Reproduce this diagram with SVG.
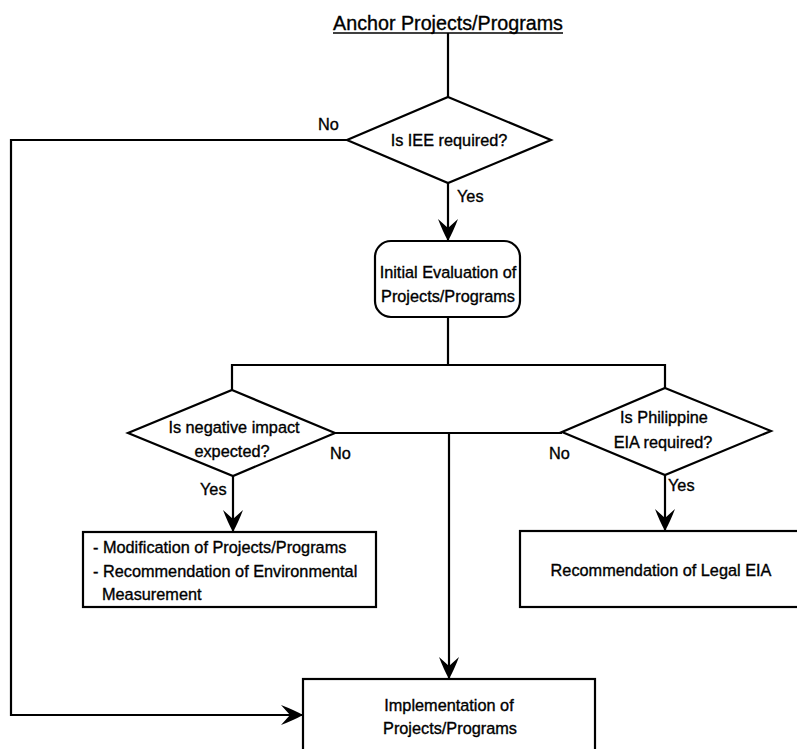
<svg xmlns="http://www.w3.org/2000/svg" width="797" height="749" viewBox="0 0 797 749">
<style>
  .s{fill:none;stroke:#000;stroke-width:2.2;stroke-linejoin:miter}
  .b{fill:#fff;stroke:#000;stroke-width:2.2}
  text{font-family:"Liberation Sans",Arial,sans-serif;font-size:16.3px;fill:#000;stroke:#000;stroke-width:0.35}
  .c{text-anchor:middle}
  .t{font-size:19.7px}
</style>
<defs>
  <marker id="ah" markerUnits="userSpaceOnUse" markerWidth="24" markerHeight="22" refX="22" refY="10" orient="auto" viewBox="0 0 24 22">
    <path d="M0,0 Q13,5 22,10 Q13,15 0,20 L9,10 z" fill="#000"/>
  </marker>
</defs>

<g id="connectors">
  <line class="s" x1="448" y1="33" x2="448" y2="97"/>
  <polyline class="s" points="347,140 11,140 11,715 303,715" marker-end="url(#ah)"/>
  <line class="s" x1="448" y1="183" x2="448" y2="241" marker-end="url(#ah)"/>
  <line class="s" x1="448" y1="317" x2="448" y2="365"/>
  <polyline class="s" points="232,390 232,365 665,365 665,388"/>
  <line class="s" x1="335" y1="433" x2="562" y2="433"/>
  <line class="s" x1="449" y1="433" x2="449" y2="679" marker-end="url(#ah)"/>
  <line class="s" x1="233" y1="476" x2="233" y2="532" marker-end="url(#ah)"/>
  <line class="s" x1="665" y1="475" x2="665" y2="531" marker-end="url(#ah)"/>
  <text x="318" y="130">No</text>
  <text x="457" y="202">Yes</text>
  <text x="330" y="459">No</text>
  <text x="549" y="459">No</text>
  <text x="200" y="495">Yes</text>
  <text x="668" y="491">Yes</text>
</g>

<g id="title">
  <text class="c t" x="448" y="30">Anchor Projects/Programs</text>
  <line x1="333" y1="33" x2="563" y2="33" stroke="#000" stroke-width="1.5"/>
</g>

<g id="iee">
  <polygon class="b" points="448,97 551,140 448,183 347,140"/>
  <text class="c" x="449" y="146">Is IEE required?</text>
</g>

<g id="initial">
  <rect class="b" x="375" y="241" width="145" height="76" rx="16" ry="16"/>
  <text class="c" x="448" y="278">Initial Evaluation of</text>
  <text class="c" x="448" y="302">Projects/Programs</text>
</g>

<g id="negative">
  <polygon class="b" points="232,390 335,433 233,476 128,433"/>
  <text class="c" x="234" y="433">Is negative impact</text>
  <text class="c" x="232" y="457">expected?</text>
</g>

<g id="philippine">
  <polygon class="b" points="665,388 771,431 665,475 562,432"/>
  <text class="c" x="664" y="423">Is Philippine</text>
  <text class="c" x="663" y="448">EIA required?</text>
</g>

<g id="modification">
  <rect class="b" x="83" y="532" width="293" height="75"/>
  <text x="93" y="553">- Modification of Projects/Programs</text>
  <text x="93" y="577">- Recommendation of Environmental</text>
  <text x="102" y="600">Measurement</text>
</g>

<g id="legal">
  <rect class="b" x="520" y="531" width="290" height="76"/>
  <text class="c" x="661" y="576">Recommendation of Legal EIA</text>
</g>

<g id="implementation">
  <rect class="b" x="303" y="679" width="292" height="90"/>
  <text class="c" x="449" y="711">Implementation of</text>
  <text class="c" x="450" y="734">Projects/Programs</text>
</g>
</svg>
